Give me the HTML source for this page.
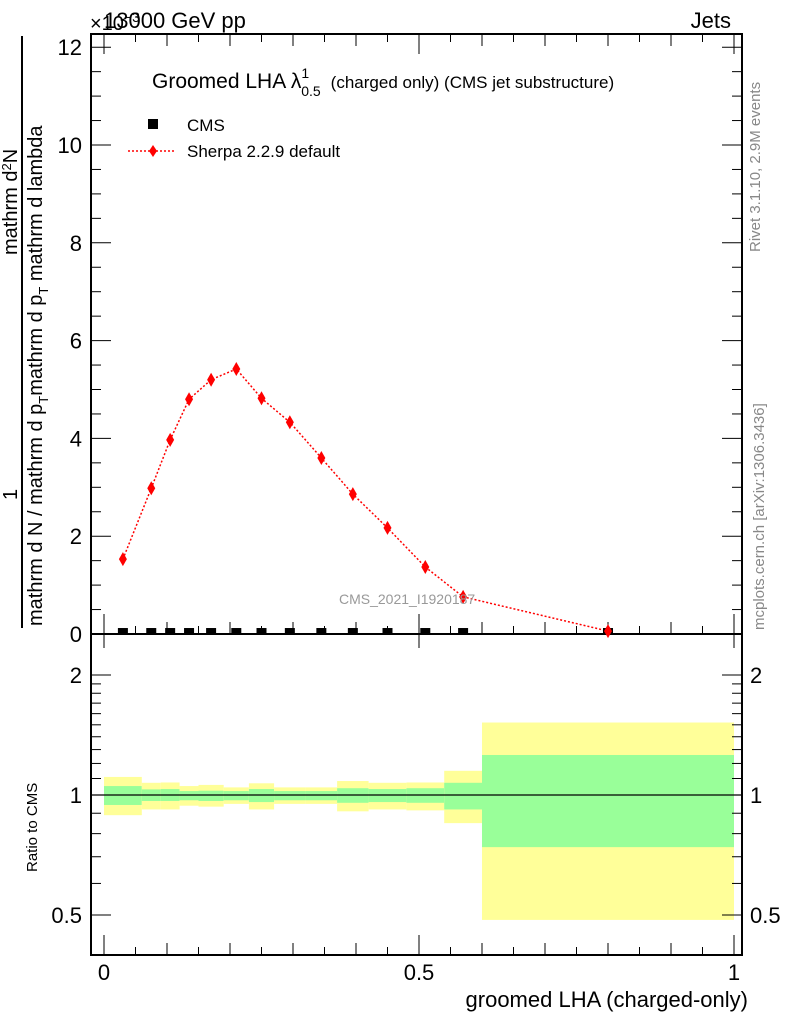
<!DOCTYPE html>
<html><head><meta charset="utf-8"><style>
body{margin:0;background:#fff}
svg{display:block;font-family:"Liberation Sans",sans-serif}
</style></head><body>
<svg id="c" width="786" height="1024" viewBox="0 0 786 1024" xmlns="http://www.w3.org/2000/svg">
<g id="bands"></g>
<g id="axes"></g>
<g id="marks"></g>
<text x="104" y="28" font-size="22">13000 GeV pp</text>
<text x="90" y="30" font-size="20">×10<tspan dy="-8" font-size="14">−3</tspan></text>
<text x="731" y="28" font-size="22" text-anchor="end">Jets</text>
<text x="152" y="88" font-size="21">Groomed LHA λ<tspan dy="-10" font-size="14">1</tspan><tspan dx="-8" dy="18" font-size="14">0.5</tspan><tspan dy="-8" font-size="17" dx="10">(charged only) (CMS jet substructure)</tspan></text>
<rect x="148" y="119" width="10" height="10" fill="#000"/>
<text x="187" y="131" font-size="17">CMS</text>
<line x1="128" y1="151" x2="176" y2="151" stroke="red" stroke-width="1.5" stroke-dasharray="2,2"/>
<path d="M153 145 L157 151 L153 157 L149 151Z" fill="red"/>
<text x="187" y="157" font-size="17">Sherpa 2.2.9 default</text>
<text x="339" y="604" font-size="14" fill="#999">CMS_2021_I1920187</text>
<text transform="translate(760,252) rotate(-90)" font-size="15" fill="#888">Rivet 3.1.10,  2.9M events</text>
<text transform="translate(764,630) rotate(-90)" font-size="15" fill="#888">mcplots.cern.ch [arXiv:1306.3436]</text>
<g>
<text transform="translate(42,626) rotate(-90)" font-size="20">mathrm d N / mathrm d p<tspan dy="6" font-size="13">T</tspan><tspan dy="-6">mathrm d p</tspan><tspan dy="6" font-size="13">T</tspan><tspan dy="-6"> mathrm d lambda</tspan></text>
<line x1="22" y1="36" x2="22" y2="628" stroke="#000" stroke-width="2"/>
<text transform="translate(17,500) rotate(-90)" font-size="20">1</text>
<text transform="translate(17,255) rotate(-90)" font-size="20">mathrm d<tspan dy="-6" font-size="13">2</tspan><tspan dy="6">N</tspan></text>
</g>
<text transform="translate(37,872) rotate(-90)" font-size="15">Ratio to CMS</text>
<text x="748" y="1007" font-size="22" text-anchor="end">groomed LHA (charged-only)</text>
</svg>
<script>
const edges=[0,0.06,0.09,0.12,0.15,0.19,0.23,0.27,0.32,0.37,0.42,0.48,0.54,0.6,1];
const sherpa=[1.53,2.98,3.97,4.8,5.2,5.42,4.82,4.33,3.6,2.86,2.17,1.37,0.76,0.06];
const cms=[0.02,0.02,0.02,0.02,0.02,0.02,0.02,0.02,0.02,0.02,0.02,0.02,0.02,0.02];
const yelHi=[1.11,1.073,1.075,1.053,1.06,1.045,1.07,1.045,1.045,1.084,1.073,1.075,1.15,1.52];
const grnHi=[1.053,1.033,1.035,1.023,1.025,1.023,1.035,1.023,1.023,1.04,1.035,1.04,1.073,1.26];
const grnLo=[0.944,0.966,0.966,0.97,0.966,0.97,0.96,0.97,0.97,0.956,0.96,0.956,0.92,0.74];
const yelLo=[0.89,0.92,0.92,0.94,0.935,0.95,0.92,0.95,0.95,0.91,0.92,0.915,0.85,0.486];
const yTicks=[0,2,4,6,8,10,12];
const xTicks=[0,0.5,1];
const xTickLabels=["0","0.5","1"];
const rTicks=[0.5,1,2];
const rTickLabels=["0.5","1","2"];
const NS="http://www.w3.org/2000/svg";
const L=91,R=742,T=34,B=634,RB=955;
const X=v=>104+v*630;
const Y=v=>634-v*48.9;
const RY=r=>795-398.6*Math.log10(r);
function mk(p,tag,at){const e=document.createElementNS(NS,tag);for(const k in at)e.setAttribute(k,at[k]);document.getElementById(p).appendChild(e);return e;}
// bands
for(let i=0;i<edges.length-1;i++){
 const x1=X(edges[i]),x2=X(edges[i+1]);
 let e=mk('bands','rect',{x:x1,y:RY(yelHi[i]),width:x2-x1,height:RY(yelLo[i])-RY(yelHi[i]),fill:'#ffff99'});
 
 
 e=mk('bands','rect',{x:x1,y:RY(grnHi[i]),width:x2-x1,height:RY(grnLo[i])-RY(grnHi[i]),fill:'#99ff99'});
 
 
}
// frames
let f=mk('axes','rect',{x:L,y:T,width:R-L,height:B-T,fill:'none',stroke:'#000','stroke-width':2});


f=mk('axes','rect',{x:L,y:B,width:R-L,height:RB-B,fill:'none',stroke:'#000','stroke-width':2});


let rl=mk('axes','line',{x1:L,x2:R,y1:RY(1),y2:RY(1),stroke:'#000','stroke-width':1.2});


// y ticks main
for(let v=0;v<=12.01;v+=0.5){const maj=Math.abs(v-Math.round(v/2)*2)<1e-6;const len=maj?20:10;
 mk('axes','line',{x1:L,x2:L+len,y1:Y(v),y2:Y(v),stroke:'#000'});
 mk('axes','line',{x1:R-len,x2:R,y1:Y(v),y2:Y(v),stroke:'#000'});}
yTicks.forEach(v=>{const t=mk('axes','text',{x:82,y:Y(v)+8,'font-size':22,'text-anchor':'end'});t.textContent=v;
 
 });
// x ticks
for(let i=0;i<=20;i++){const v=i*0.05;const maj=i%10==0;const len=maj?20:(i%2==0?12:8);
 mk('axes','line',{x1:X(v),x2:X(v),y1:B,y2:B-len,stroke:'#000'});
 mk('axes','line',{x1:X(v),x2:X(v),y1:T,y2:T+len,stroke:'#000'});
 if(maj){mk('axes','line',{x1:X(v),x2:X(v),y1:B,y2:B+14,stroke:'#000'});}
 mk('axes','line',{x1:X(v),x2:X(v),y1:RB,y2:RB-len,stroke:'#000'});}
xTicks.forEach((v,i)=>{const t=mk('axes','text',{x:X(v),y:980,'font-size':22,'text-anchor':'middle'});t.textContent=xTickLabels[i];
 
 });
// ratio ticks (log)
const rMinor=[0.5,0.6,0.7,0.8,0.9,1,1.1,1.2,1.3,1.4,1.5,1.6,1.7,1.8,1.9,2];
rMinor.forEach(r=>{const maj=rTicks.includes(r);const len=maj?20:10;
 mk('axes','line',{x1:L,x2:L+len,y1:RY(r),y2:RY(r),stroke:'#000'});
 mk('axes','line',{x1:R-len,x2:R,y1:RY(r),y2:RY(r),stroke:'#000'});});
rTicks.forEach((r,i)=>{let t=mk('axes','text',{x:82,y:RY(r)+8,'font-size':22,'text-anchor':'end'});t.textContent=rTickLabels[i];
 
 
 t=mk('axes','text',{x:750,y:RY(r)+8,'font-size':22});t.textContent=rTickLabels[i];
 
 });
// sherpa line & markers
const cx=edges.slice(0,-1).map((e,i)=>(e+edges[i+1])/2);
const pl=mk('marks','polyline',{points:cx.map((c,i)=>X(c)+','+Y(sherpa[i])).join(' '),fill:'none',stroke:'red','stroke-width':1.5,'stroke-dasharray':'2,2'});


cx.forEach((c,i)=>{
 const s=mk('marks','rect',{x:X(c)-5,y:Y(cms[i])-5,width:10,height:5,fill:'#000'});
 
 
 const x=X(c),y=Y(sherpa[i]);
 const d=mk('marks','path',{d:`M${x} ${y-7} L${x+4} ${y} L${x} ${y+7} L${x-4} ${y}Z`,fill:'red'});
 
 
});
</script>
</body></html>
